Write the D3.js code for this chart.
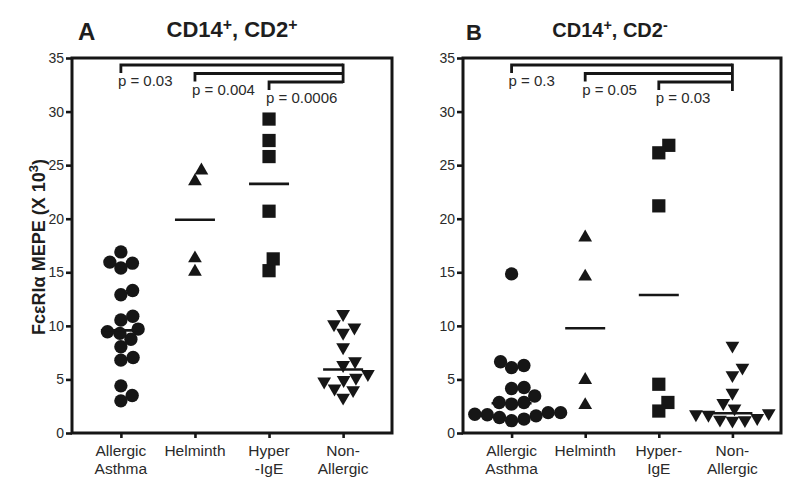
<!DOCTYPE html>
<html><head><meta charset="utf-8">
<script src="https://cdn.jsdelivr.net/npm/d3@7"></script>
<style>
body{margin:0;background:#fff}
text{font-family:"Liberation Sans",Arial,Helvetica,sans-serif}
</style>
</head><body><svg id="c" width="800" height="492"></svg>
<script>
// ---------------- DATA ----------------
const categories = ["Allergic Asthma", "Helminth", "Hyper-IgE", "Non-Allergic"];
const xLabelsA = [["Allergic", "Asthma"], ["Helminth"], ["Hyper", "-IgE"], ["Non-", "Allergic"]];
const xLabelsB = [["Allergic", "Asthma"], ["Helminth"], ["Hyper-", "IgE"], ["Non-", "Allergic"]];
const yTicks = [0, 5, 10, 15, 20, 25, 30, 35];

// Panel A: CD14+, CD2+
const aAllergicAsthma = [16.9, 15.85, 15.95, 15.4, 13.3, 12.9, 10.9, 10.55, 9.7, 8.75, 9.3, 9.45, 8.05, 7.05, 6.8, 4.4, 3.5, 3.0];
const aHelminth = [24.5, 23.5, 16.3, 15.05];
const aHyperIgE = [29.3, 27.3, 25.8, 20.7, 15.15, 16.25];
const aNonAllergic = [11.1, 10.15, 9.85, 9.35, 8.0, 6.35, 6.7, 5.5, 4.95, 4.8, 5.15, 4.15, 4.0, 3.3];

// Panel B: CD14+, CD2-
const bAllergicAsthma = [14.85, 6.3, 6.1, 6.65, 4.15, 4.25, 3.45, 2.85, 2.7, 2.85, 1.9, 1.45, 1.7, 1.15, 1.9, 1.6, 1.3, 1.75];
const bHelminth = [18.25, 14.6, 4.95, 2.6];
const bHyperIgE = [26.85, 26.15, 21.2, 4.55, 2.85, 2.05];
const bNonAllergic = [8.15, 6.1, 5.4, 3.75, 2.8, 2.3, 1.85, 1.15, 1.25, 1.7, 1.4, 1.2, 1.75];

const pLabelsA = ["p = 0.03", "p = 0.004", "p = 0.0006"];
const pLabelsB = ["p = 0.3", "p = 0.05", "p = 0.03"];
const pCompareFrom = [0, 1, 2];   // each compared against Non-Allergic
const pCompareTo = 3;

// ---------------- DRAW ----------------
const svg = d3.select("#c");
const ink = "#161616";
const textCol = "#2a2a2a";

const symbols = [
  d3.symbol().type(d3.symbolCircle).size(140),
  d3.symbol().type(d3.symbolTriangle).size(82),
  d3.symbol().type(d3.symbolSquare).size(175),
  d3.symbol().type(d3.symbolTriangle).size(82)
];
const rotations = [0, 0, 0, 180];

function beeswarm(values, y, thr) {
  const placed = [];
  const order = values.map((v, i) => i).sort((a, b) => values[a] - values[b]);
  const out = new Array(values.length);
  order.forEach(i => {
    const py = y(values[i]);
    const cands = [0];
    placed.forEach(p => {
      const dy = Math.abs(p.y - py);
      if (dy < thr) {
        const w = Math.sqrt(thr * thr - dy * dy);
        cands.push(p.x - w, p.x + w);
      }
    });
    cands.sort((a, b) => Math.abs(a) - Math.abs(b) || b - a);
    let chosen = 0;
    for (const c of cands) {
      if (placed.every(p => Math.hypot(p.x - c, p.y - py) >= thr - 0.01)) { chosen = c; break; }
    }
    placed.push({x: chosen, y: py});
    out[i] = {v: values[i], dx: chosen};
  });
  return out;
}

function panel(cfg) {
  const g = svg.append("g");
  const x = d3.scalePoint().domain(categories).range([cfg.left, cfg.right]).padding(0.66);
  const y = d3.scaleLinear().domain([0, 35]).range([433, 58]);

  // y axis
  const ya = g.append("g").attr("transform", `translate(${cfg.left},0)`)
    .call(d3.axisLeft(y).tickValues(yTicks).tickSize(6).tickPadding(2));
  ya.select(".domain").remove();
  ya.selectAll(".tick line").attr("stroke", ink).attr("stroke-width", 2.6);
  ya.selectAll(".tick text").attr("fill", textCol).style("font-size", "14px")
    .style("font-family", '"Liberation Sans",Arial,sans-serif');

  // x ticks
  const xa = g.append("g").attr("transform", "translate(0,433)")
    .call(d3.axisBottom(x).tickSize(5));
  xa.select(".domain").remove();
  xa.selectAll(".tick text").remove();
  xa.selectAll(".tick line").attr("stroke", ink).attr("stroke-width", 2.6);

  // frame
  g.append("rect").attr("x", cfg.left).attr("y", y(35))
    .attr("width", cfg.right - cfg.left).attr("height", y(0) - y(35))
    .attr("fill", "none").attr("stroke", ink).attr("stroke-width", 3);

  // x labels (one text element per line)
  categories.forEach((c, i) => {
    cfg.labels[i].forEach((line, j) => {
      g.append("text").attr("x", x(c)).attr("y", 456 + j * 18)
        .attr("text-anchor", "middle").attr("fill", textCol)
        .style("font-size", "15.5px").text(line);
    });
  });

  // points + median
  cfg.series.forEach((vals, i) => {
    const c = categories[i];
    const pts = beeswarm(vals, y, 12.5);
    g.append("g").selectAll("path").data(pts).join("path")
      .attr("d", symbols[i])
      .attr("transform", d => `translate(${x(c) + d.dx},${y(d.v)}) rotate(${rotations[i]})`)
      .attr("fill", ink);
    const med = d3.median(vals);
    g.append("line").attr("x1", x(c) - 20).attr("x2", x(c) + 20)
      .attr("y1", y(med)).attr("y2", y(med))
      .attr("stroke", ink).attr("stroke-width", 2.6);
  });

  // p-value brackets
  const xr = x(categories[pCompareTo]);
  const levels = cfg.pLabels.map((_, k) => y(35) + 7 + k * 8.5);
  const leg = 8;
  cfg.pLabels.forEach((lab, k) => {
    const xl = x(categories[pCompareFrom[k]]);
    const yy = levels[k];
    g.append("path").attr("d", `M${xl},${yy + leg}V${yy}H${xr}`)
      .attr("fill", "none").attr("stroke", ink).attr("stroke-width", 2.8);
    g.append("text").attr("x", xl - 3).attr("y", yy + 21)
      .attr("fill", textCol).style("font-size", "15px").text(lab);
  });
  g.append("line").attr("x1", xr).attr("x2", xr)
    .attr("y1", levels[0] - 1.4).attr("y2", levels[levels.length - 1] + cfg.rightLeg)
    .attr("stroke", ink).attr("stroke-width", 2.8);

  // titles
  g.append("text").attr("x", cfg.letterX).attr("y", 40).attr("fill", "#1e1e1e")
    .style("font-size", cfg.letterSize + "px").style("font-weight", "bold").text(cfg.letter);
  const tt = g.append("text").attr("x", cfg.titleX).attr("y", 37).attr("text-anchor", "middle")
    .attr("fill", "#1e1e1e").style("font-size", cfg.titleSize + "px").style("font-weight", "bold");
  tt.append("tspan").text("CD14");
  tt.append("tspan").attr("dy", -7).style("font-size", (cfg.titleSize * 0.72) + "px").text("+");
  tt.append("tspan").attr("dy", 7).text(", CD2");
  tt.append("tspan").attr("dy", -7).style("font-size", (cfg.titleSize * 0.72) + "px").text(cfg.sup2);
}

panel({left: 72, right: 392, labels: xLabelsA,
  series: [aAllergicAsthma, aHelminth, aHyperIgE, aNonAllergic],
  pLabels: pLabelsA, rightLeg: 1, letter: "A", letterX: 78, letterSize: 24,
  titleX: 232, titleSize: 22, sup2: "+"});
panel({left: 463, right: 781, labels: xLabelsB,
  series: [bAllergicAsthma, bHelminth, bHyperIgE, bNonAllergic],
  pLabels: pLabelsB, rightLeg: 9, letter: "B", letterX: 466, letterSize: 22,
  titleX: 610, titleSize: 20, sup2: "-"});

// y axis title
const yl = svg.append("text").attr("transform", "translate(45,247) rotate(-90)")
  .attr("text-anchor", "middle").attr("fill", "#1e1e1e")
  .style("font-size", "18px").style("font-weight", "bold");
yl.append("tspan").text("Fc\u03b5RI\u03b1 MEPE (X 10");
yl.append("tspan").attr("dy", -7).style("font-size", "13px").text("3");
yl.append("tspan").attr("dy", 7).text(")");
</script>
</body></html>
